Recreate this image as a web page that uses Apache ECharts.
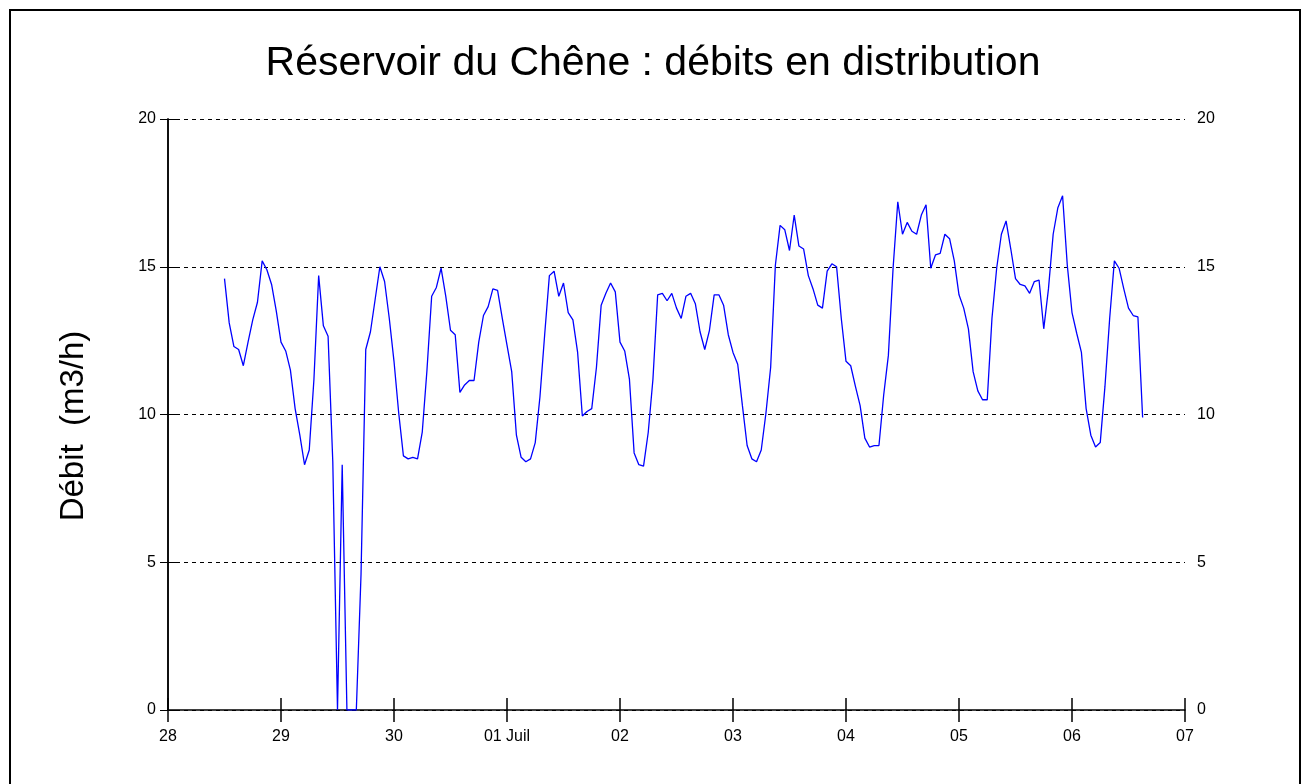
<!DOCTYPE html>
<html>
<head>
<meta charset="utf-8">
<title>Réservoir du Chêne</title>
<script src="https://cdn.jsdelivr.net/npm/echarts@6.0.0/dist/echarts.min.js"></script>
<style>
  html, body { margin: 0; padding: 0; background: #fff; }
  #chart { width: 1306px; height: 784px; }
</style>
</head>
<body>
<div id="chart"></div>
<script>
// jours (graduations toutes les 24 h, à partir du 28 à 00:00)
const dayLabels = ['28', '29', '30', '01 Juil', '02', '03', '04', '05', '06', '07']
const yTicks = [0, 5, 10, 15, 20]

// première mesure : 28 à 12:00, puis une valeur par heure
const startHour = 12
const debit = [
  14.6, 13.1, 12.3, 12.2, 11.65, 12.45, 13.2, 13.8, 15.2, 14.9, 14.4, 13.5,
  12.45, 12.15, 11.5, 10.2, 9.3, 8.3, 8.8, 11.2, 14.7, 13.0, 12.65, 8.4,
  0, 8.3, 0, 0, 0, 4.6, 12.2, 12.8, 13.9, 15.0, 14.5, 13.25,
  11.8, 10.05, 8.6, 8.5, 8.55, 8.5, 9.4, 11.5, 14.0, 14.3, 14.95, 14.0,
  12.85, 12.7, 10.75, 11.0, 11.15, 11.15, 12.45, 13.35, 13.65, 14.25, 14.2, 13.25,
  12.35, 11.45, 9.3, 8.55, 8.4, 8.5, 9.05, 10.6, 12.7, 14.7, 14.85, 14.0,
  14.45, 13.45, 13.2, 12.1, 9.95, 10.1, 10.2, 11.6, 13.7, 14.1, 14.45, 14.15,
  12.45, 12.15, 11.2, 8.7, 8.3, 8.25, 9.4, 11.2, 14.05, 14.1, 13.85, 14.1,
  13.6, 13.25, 14.0, 14.1, 13.75, 12.8, 12.2, 12.85, 14.05, 14.05, 13.7, 12.7,
  12.1, 11.7, 10.3, 8.95, 8.5, 8.4, 8.8, 10.05, 11.6, 15.05, 16.4, 16.25,
  15.55, 16.75, 15.7, 15.6, 14.7, 14.25, 13.7, 13.6, 14.85, 15.1, 15.0, 13.25,
  11.8, 11.65, 10.95, 10.3, 9.2, 8.9, 8.95, 8.95, 10.65, 12.0, 14.95, 17.2,
  16.1, 16.5, 16.2, 16.1, 16.75, 17.1, 14.95, 15.4, 15.45, 16.1, 15.95, 15.2,
  14.05, 13.6, 12.9, 11.45, 10.8, 10.5, 10.5, 13.25, 14.95, 16.1, 16.55, 15.6,
  14.6, 14.4, 14.35, 14.1, 14.5, 14.55, 12.9, 14.25, 16.1, 17.0, 17.4, 15.05,
  13.45, 12.75, 12.1, 10.2, 9.3, 8.9, 9.05, 10.95, 13.25, 15.2, 14.95, 14.25,
  13.6, 13.35, 13.3, 9.9
]

const font = 'Liberation Sans, Arial, sans-serif'
const seriesData = debit.map((v, i) => [startHour + i, v])

const chart = echarts.init(document.getElementById('chart'))

const yAxisBase = {
  type: 'value',
  min: yTicks[0],
  max: yTicks[yTicks.length - 1],
  interval: 5,
  axisLine: { show: true, lineStyle: { color: '#000', width: 1.5 } },
  axisTick: { show: true, length: 8, lineStyle: { color: '#000' } },
  axisLabel: { color: '#000', fontFamily: font, fontSize: 16, margin: 12 }
}

chart.setOption({
  animation: false,
  backgroundColor: '#fff',
  title: {
    text: 'Réservoir du Chêne : débits en distribution',
    left: 'center',
    top: 38,
    textStyle: { fontFamily: font, fontSize: 41, fontWeight: 'normal', color: '#000' }
  },
  graphic: [
    {
      type: 'rect',
      shape: { x: 10, y: 10, width: 1290, height: 800 },
      style: { fill: 'none', stroke: '#000', lineWidth: 2 },
      silent: true
    },
    {
      // titre de l'axe vertical
      type: 'text',
      x: 74,
      y: 426,
      rotation: Math.PI / 2,
      style: {
        text: 'Débit  (m3/h)',
        fontFamily: font,
        fontSize: 33,
        fill: '#000',
        align: 'center',
        verticalAlign: 'middle'
      },
      silent: true
    }
  ],
  grid: { left: 168, right: 121, top: 119, bottom: 74 },
  xAxis: [
    {
      type: 'value',
      min: 0,
      max: 216,
      interval: 24,
      axisLine: { show: true, onZero: false, lineStyle: { color: '#000', width: 1.5 } },
      axisTick: { show: true, length: 12, lineStyle: { color: '#000', width: 1.5 } },
      axisLabel: {
        color: '#000',
        fontFamily: font,
        fontSize: 16,
        margin: 19,
        formatter: v => dayLabels[Math.round(v / 24)]
      },
      splitLine: { show: false }
    },
    {
      // petites graduations vers l'intérieur
      type: 'value',
      position: 'bottom',
      min: 0,
      max: 216,
      interval: 24,
      axisLine: { show: false },
      axisTick: { show: true, inside: true, length: 12, lineStyle: { color: '#000', width: 1.5 } },
      axisLabel: { show: false },
      splitLine: { show: false }
    }
  ],
  yAxis: [
    Object.assign({}, yAxisBase, {
      position: 'left',
      splitLine: { show: true, lineStyle: { color: '#000', type: [4, 4], width: 1 } }
    }),
    Object.assign({}, yAxisBase, {
      position: 'right',
      splitLine: { show: false }
    })
  ],
  series: [
    {
      type: 'line',
      data: seriesData,
      showSymbol: false,
      lineStyle: { color: '#0000ff', width: 1.3 },
      itemStyle: { color: '#0000ff' }
    }
  ]
})
</script>
</body>
</html>
